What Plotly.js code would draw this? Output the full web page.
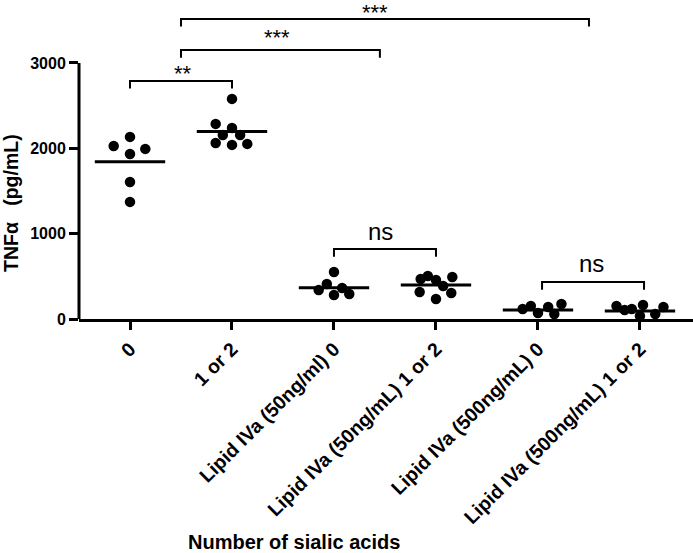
<!DOCTYPE html>
<html>
<head>
<meta charset="utf-8">
<script src="https://cdn.plot.ly/plotly-3.0.1.min.js"></script>
<style>html,body{margin:0;padding:0;background:#fff;}#chart{width:693px;height:553px;}</style>
</head>
<body>
<div id="chart"></div>
<script>
// ---- data ----
const categories = ['0', '1 or 2', 'Lipid IVa (50ng/ml) 0', 'Lipid IVa (50ng/mL) 1 or 2', 'Lipid IVa (500ng/mL) 0', 'Lipid IVa (500ng/mL) 1 or 2'];

const values0 = [2134, 2028, 1993, 1934, 1606, 1372];
const values1 = [2579, 2286, 2239, 2157, 2157, 2063, 2040, 2052];
const values2 = [551, 410, 340, 281, 363, 293];
const values3 = [469, 504, 457, 492, 387, 317, 234, 305];
const values4 = [117, 152, 70, 141, 59, 176];
const values5 = [152, 105, 117, 164, 35, 59, 141];

// horizontal scatter of the dots within each column (category units)
const jitter0 = [0, -0.16, 0.15, 0, 0, 0];
const jitter1 = [0, -0.16, 0, -0.09, 0.08, -0.16, 0, 0.15];
const jitter2 = [0, -0.07, -0.15, 0, 0.08, 0.15];
const jitter3 = [-0.15, -0.08, 0, 0.16, 0.07, -0.16, 0, 0.15];
const jitter4 = [-0.15, -0.07, 0, 0.1, 0.16, 0.23];
const jitter5 = [-0.23, -0.15, -0.08, 0.03, 0, 0.15, 0.23];

const means = [1844, 2196, 367, 399, 105, 94];

const yTickVals = [0, 1000, 2000, 3000];

// significance brackets
const bracketFrom = [0, 0.5, 0.5, 2, 4.04];
const bracketTo = [1, 2.45, 4.5, 3, 5.04];
const bracketLevel = [2790, 3152, 3516, 820, 434];
const bracketLabels = ['**', '***', '***', 'ns', 'ns'];
const bracketLabelX = [0.52, 1.44, 2.40, 2.456, 4.52];
const bracketLabelLevel = [2941, 3358, 3645, 1025, 650];

// ---- build ----
const allValues = [values0, values1, values2, values3, values4, values5];
const allJitter = [jitter0, jitter1, jitter2, jitter3, jitter4, jitter5];

const FONT = 'Liberation Sans, Arial, Helvetica, sans-serif';

const traces = allValues.map((vals, i) => ({
  type: 'scatter',
  mode: 'markers',
  x: vals.map((v, k) => i + allJitter[i][k]),
  y: vals,
  marker: {color: '#000', size: 10.5, line: {width: 0}},
  cliponaxis: false,
  showlegend: false,
  hoverinfo: 'skip'
}));

const shapes = [];
// y axis line from 0 to 3000
shapes.push({type: 'line', xref: 'paper', yref: 'y', x0: 0, x1: 0, y0: 0, y1: yTickVals[yTickVals.length - 1],
  line: {color: '#000', width: 3}});
// mean bars
means.forEach((m, i) => {
  shapes.push({type: 'line', xref: 'x', yref: 'y', x0: i - 0.345, x1: i + 0.345, y0: m, y1: m,
    line: {color: '#000', width: 3}});
});
// brackets
const drop = 90;
const annotations = [];
bracketLabels.forEach((lab, i) => {
  const x0 = bracketFrom[i], x1 = bracketTo[i], y = bracketLevel[i];
  shapes.push({type: 'path', xref: 'x', yref: 'y',
    path: `M ${x0},${y - drop} L ${x0},${y} L ${x1},${y} L ${x1},${y - drop}`,
    line: {color: '#000', width: 2}});
  const isNs = lab === 'ns';
  annotations.push({xref: 'x', yref: 'y', x: bracketLabelX[i], y: bracketLabelLevel[i], yanchor: 'middle',
    yshift: isNs ? 0 : -5, text: lab, showarrow: false,
    font: {family: FONT, size: isNs ? 24 : 22, color: '#000'}});
});
// axis titles
annotations.push({xref: 'paper', yref: 'paper', x: (294 - 79) / 614, y: (319 - 542) / 315,
  xanchor: 'center', yanchor: 'middle', showarrow: false, text: 'Number of sialic acids',
  font: {family: FONT, size: 20, color: '#000', weight: 'bold'}});
annotations.push({xref: 'paper', yref: 'paper', x: (11 - 79) / 614, y: (319 - 203) / 315,
  xanchor: 'center', yanchor: 'middle', showarrow: false, textangle: -90, text: 'TNFα   (pg/mL)',
  font: {family: FONT, size: 19.5, color: '#000', weight: 'bold'}});

const layout = {
  width: 693, height: 553,
  margin: {l: 79, r: 0, t: 4, b: 234, pad: 0},
  paper_bgcolor: '#fff', plot_bgcolor: '#fff',
  showlegend: false,
  xaxis: {
    range: [-0.5, 5.52],
    tickmode: 'array', tickvals: categories.map((c, i) => i), ticktext: categories,
    tickangle: -45, ticks: 'outside', ticklen: 8, tickwidth: 3, tickcolor: '#000',
    showline: true, linewidth: 3, linecolor: '#000',
    showgrid: false, zeroline: false,
    tickfont: {family: FONT, size: 19.5, color: '#000', weight: 'bold'}
  },
  yaxis: {
    range: [0, 3691],
    tickmode: 'array', tickvals: yTickVals, ticktext: yTickVals.map(String),
    ticks: 'outside', ticklen: 9, tickwidth: 3, tickcolor: '#000',
    showline: false, showgrid: false, zeroline: false,
    tickfont: {family: FONT, size: 16, color: '#000', weight: 'bold'}
  },
  shapes: shapes,
  annotations: annotations
};

Plotly.newPlot('chart', traces, layout, {displayModeBar: false, staticPlot: true});
</script>
</body>
</html>
